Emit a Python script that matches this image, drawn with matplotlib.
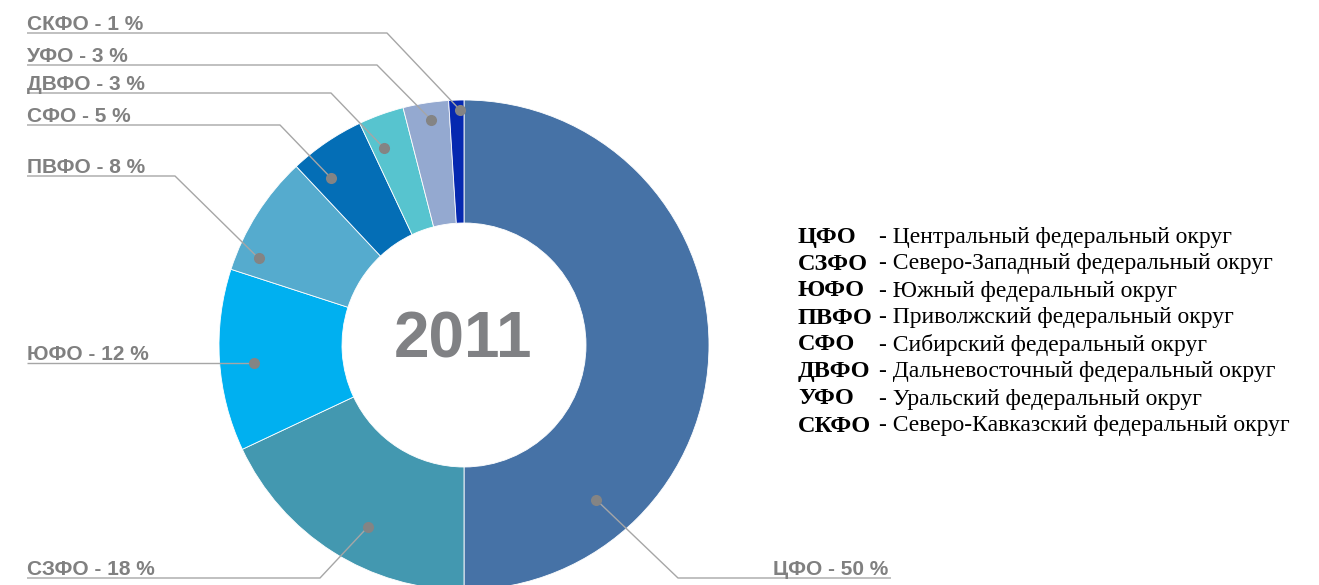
import numpy as np
import matplotlib
matplotlib.use("Agg")
import matplotlib.pyplot as plt

# data: share of federal districts, 2011
districts = ["ЦФО", "СЗФО", "ЮФО", "ПВФО", "СФО", "ДВФО", "УФО", "СКФО"]
shares = [50, 18, 12, 8, 5, 3, 3, 1]
full_names = [
    "Центральный федеральный округ",
    "Северо-Западный федеральный округ",
    "Южный федеральный округ",
    "Приволжский федеральный округ",
    "Сибирский федеральный округ",
    "Дальневосточный федеральный округ",
    "Уральский федеральный округ",
    "Северо-Кавказский федеральный округ",
]
legend_order = ["ЦФО", "СЗФО", "ЮФО", "ПВФО", "СФО", "ДВФО", "УФО", "СКФО"]
year = "2011"

colors = ["#4672A6", "#4398B0", "#00B0F0", "#55ABCE", "#046EB6", "#57C4CF", "#94A9D0", "#0528B0"]

W, H = 1319, 585
fig = plt.figure(figsize=(W / 100, H / 100), dpi=100)
ax = fig.add_axes([0, 0, 1, 1])

def py(y):
    # pixel row (from top) -> data y
    return H - y

cx, cy, R = 464, py(345), 245
wedges, _ = ax.pie(shares, colors=colors, startangle=90, counterclock=False,
                   radius=R, center=(cx, cy), frame=True,
                   wedgeprops=dict(width=R - 122, edgecolor="white", linewidth=0.6))
ax.set_xlim(0, W)
ax.set_ylim(0, H)
ax.set_aspect("auto")
ax.axis("off")

ax.text(cx - 1, cy + 4, year, ha="center", va="center", fontsize=46,
        fontweight="bold", color="#808184", family="Liberation Sans")

# label layout: where the dot sits inside each wedge, underline row, elbow x
dot_frac = [0.775, 0.43, 0.47, 0.17, 0.26, 0.28, 0.56, 0.72]
dot_r = [0.83, 0.84, 0.86, 0.91, 0.87, 0.87, 0.93, 0.96]
line_y = [578, 578, 363, 176, 125, 93, 65, 33]
elbow_x = [678, 320, None, 175, 280, 331, 377, 387]

lab_col = "#808080"
line_col = "#A6A6A6"
cum = np.concatenate([[0], np.cumsum(shares)]) / sum(shares)
for i, name in enumerate(districts):
    a = 2 * np.pi * (cum[i] + dot_frac[i] * (cum[i + 1] - cum[i]))
    dx = cx + dot_r[i] * R * np.sin(a)
    dy = cy + dot_r[i] * R * np.cos(a)
    ly = py(line_y[i])
    label = f"{name} - {shares[i]} %"
    if i == 0:
        # right-hand label
        xs = [891, elbow_x[i], dx]
        ys = [ly, ly, dy]
        ax.text(888, ly + 3, label, ha="right", va="baseline", fontsize=15,
                fontweight="bold", color=lab_col, family="Liberation Sans")
    else:
        ex = dx if elbow_x[i] is None else elbow_x[i]
        xs = [27, ex, dx]
        ys = [ly, ly, dy]
        ax.text(27, ly + 3, label, ha="left", va="baseline", fontsize=15,
                fontweight="bold", color=lab_col, family="Liberation Sans")
    ax.plot(xs, ys, color=line_col, lw=1.0, solid_capstyle="butt")
    ax.plot(dx, dy, "o", ms=8, color="#848484", mec="none")

# legend with full names
for j, abbr in enumerate(legend_order):
    y = py(237 + 27 * j)
    ax.text(798, y, abbr, ha="left", va="center", fontsize=17.5,
            fontweight="bold", color="black", family="Liberation Serif")
    ax.text(879, y, "- " + full_names[districts.index(abbr)], ha="left",
            va="center", fontsize=17, color="black", family="Liberation Serif")

fig.savefig("out.png", dpi=100)
